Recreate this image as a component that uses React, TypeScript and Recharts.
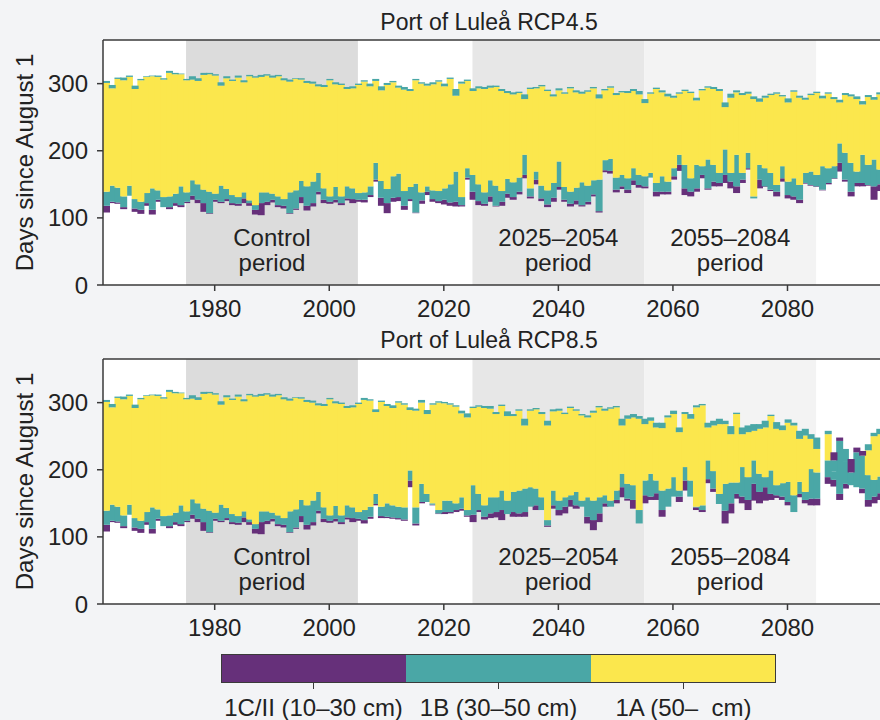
import React from 'react';
import { Bar, BarChart, ReferenceArea, ReferenceLine, XAxis, YAxis } from 'recharts';

const FONT = '"Liberation Sans", Arial, Helvetica, sans-serif';
const INK = '#222';
const AXIS = '#3a3a3a';
const PURPLE = '#66307a';
const TEAL = '#4aa7a6';
const YELLOW = '#fbe74d';

// winters 1961–2096, one bar per year
const years = Array.from({ length: 136 }, (_, i) => 1961 + i);
const xTicks = [1980, 2000, 2020, 2040, 2060, 2080];
const yTicks = [0, 100, 200, 300];

const periods = [
  { from: 1975, to: 2005, fill: '#dcdcdc', lines: ['Control', 'period'] },
  { from: 2025, to: 2055, fill: '#e7e7e7', lines: ['2025–2054', 'period'] },
  { from: 2055, to: 2085, fill: '#f3f3f3', lines: ['2055–2084', 'period'] },
];

const iceClasses = ['1C/II (10–30 cm)', '1B (30–50 cm)', '1A (50–  cm)'];
const iceColors = [PURPLE, TEAL, YELLOW];

// historical run 1961–2005 (shared by both scenarios), days since August 1
const histStart = [108, 122, 121, 113, 133, 109, 106, 118, 105, 124, 116, 113, 118, 116, 122, 127, 122, 109, 106, 124, 122, 125, 119, 118, 122, 118, 105, 104, 119, 123, 116, 114, 106, 112, 122, 111, 117, 135, 122, 121, 123, 119, 126, 122, 124];
const histTealLo = [118, 124, 123, 116, 133, 114, 112, 122, 112, 127, 116, 116, 122, 119, 124, 133, 127, 122, 107, 127, 124, 128, 122, 121, 129, 122, 112, 122, 124, 127, 119, 118, 107, 114, 131, 118, 122, 139, 127, 124, 127, 122, 129, 128, 127];
const histYelLo = [139, 148, 145, 132, 148, 128, 124, 137, 144, 141, 131, 132, 136, 147, 138, 156, 150, 142, 139, 136, 148, 143, 134, 131, 138, 126, 119, 138, 138, 136, 132, 128, 138, 141, 155, 147, 154, 167, 144, 132, 146, 132, 147, 144, 137];
const histYelHi = [301, 293, 307, 305, 310, 292, 305, 310, 311, 310, 306, 316, 314, 314, 305, 306, 304, 313, 314, 312, 297, 308, 304, 309, 302, 311, 309, 310, 312, 309, 311, 305, 303, 307, 306, 301, 300, 296, 295, 305, 299, 298, 292, 293, 298];
const histCap = [304, 298, 309, 309, 312, 297, 307, 311, 312, 312, 308, 319, 316, 315, 307, 311, 308, 316, 316, 314, 302, 311, 306, 312, 305, 313, 311, 313, 314, 312, 313, 308, 306, 308, 308, 304, 303, 299, 298, 307, 302, 300, 295, 296, 300];

// RCP4.5 2006–2096
const r45Start = [123, 131, 154, 118, 107, 124, 125, 112, 125, 107, 121, 134, 124, 122, 120, 118, 117, 117, 157, 127, 119, 118, 124, 117, 118, 130, 127, 135, 159, 129, 150, 125, 116, 124, 142, 124, 117, 120, 117, 120, 132, 108, 168, 166, 138, 143, 137, 149, 145, 144, 160, 132, 135, 135, 157, 170, 134, 132, 139, 159, 142, 147, 147, 152, 144, 137, 152, 172, 129, 144, 146, 140, 132, 154, 129, 127, 122, 151, 148, 146, 141, 150, 158, 169, 154, 132, 147, 147, 148, 127, 140];
const r45TealLo = [127, 134, 157, 130, 122, 130, 131, 118, 128, 108, 126, 139, 128, 125, 127, 123, 124, 119, 160, 139, 125, 121, 132, 118, 124, 136, 131, 139, 164, 132, 157, 129, 120, 130, 146, 127, 121, 126, 119, 124, 135, 110, 171, 170, 142, 147, 142, 156, 149, 147, 160, 139, 139, 139, 162, 179, 144, 139, 144, 164, 144, 154, 152, 164, 154, 147, 157, 174, 129, 157, 147, 142, 139, 159, 134, 132, 127, 152, 149, 147, 142, 152, 159, 182, 157, 139, 152, 152, 149, 147, 150];
const r45YelLo = [138, 147, 182, 155, 143, 162, 166, 140, 146, 151, 138, 147, 141, 140, 144, 150, 169, 131, 174, 164, 150, 138, 156, 148, 140, 158, 153, 160, 194, 144, 169, 148, 141, 152, 184, 146, 139, 145, 153, 148, 156, 157, 186, 188, 160, 164, 159, 174, 164, 162, 167, 152, 162, 154, 174, 194, 179, 159, 179, 177, 187, 179, 167, 202, 167, 194, 167, 197, 132, 179, 174, 167, 149, 177, 154, 159, 149, 167, 169, 164, 177, 174, 177, 211, 197, 182, 169, 194, 179, 187, 172];
const r45YelHi = [303, 296, 304, 290, 298, 302, 294, 291, 289, 305, 300, 297, 299, 303, 296, 307, 282, 300, 304, 289, 293, 292, 294, 295, 289, 286, 284, 286, 277, 292, 293, 296, 289, 281, 290, 285, 293, 287, 285, 288, 293, 278, 290, 294, 283, 287, 286, 289, 284, 271, 285, 292, 287, 281, 279, 285, 289, 286, 275, 290, 294, 292, 289, 265, 279, 287, 283, 285, 277, 273, 279, 283, 285, 281, 272, 288, 279, 276, 283, 286, 278, 285, 277, 272, 283, 281, 277, 269, 280, 276, 284];
const r45Cap = [305, 300, 307, 296, 301, 304, 297, 295, 292, 307, 302, 300, 302, 305, 300, 309, 292, 303, 306, 293, 296, 295, 297, 297, 292, 289, 287, 288, 284, 294, 295, 298, 291, 284, 293, 287, 295, 290, 288, 290, 295, 284, 292, 296, 286, 289, 289, 292, 289, 277, 287, 294, 290, 285, 282, 287, 291, 288, 279, 292, 296, 295, 292, 272, 285, 290, 286, 288, 281, 278, 282, 285, 287, 283, 278, 290, 282, 279, 285, 288, 282, 287, 280, 276, 286, 284, 281, 274, 283, 280, 287];

// RCP8.5 2006–2096 (2086 has no ice)
const r85Start = [120, 127, 147, 128, 128, 127, 126, 124, 174, 117, 150, 152, 147, 134, 134, 135, 137, 139, 130, 122, 137, 126, 128, 129, 125, 134, 130, 130, 130, 145, 140, 140, 115, 142, 132, 135, 145, 142, 145, 120, 110, 122, 145, 145, 150, 159, 154, 142, 120, 150, 155, 155, 130, 145, 160, 152, 169, 160, 140, 137, 180, 167, 149, 120, 135, 157, 150, 140, 154, 150, 154, 155, 158, 155, 147, 137, 159, 150, 147, 147, null, 179, 175, 155, 172, 177, 174, 165, 145, 150, 155];
const r85TealLo = [125, 130, 149, 131, 130, 129, 128, 126, 184, 120, 152, 152, 148, 135, 137, 137, 140, 142, 132, 133, 140, 130, 135, 137, 140, 134, 137, 135, 137, 145, 147, 140, 117, 147, 140, 145, 155, 147, 145, 130, 125, 135, 150, 145, 155, 174, 157, 155, 120, 162, 160, 165, 140, 145, 160, 160, 184, 160, 144, 140, 186, 172, 149, 139, 150, 164, 160, 155, 179, 167, 174, 164, 162, 160, 152, 137, 164, 155, 157, 157, null, 189, 185, 164, 179, 177, 174, 172, 155, 160, 165];
const r85YelLo = [140, 145, 164, 145, 150, 147, 145, 144, 199, 144, 179, 164, 150, 140, 154, 154, 150, 159, 140, 177, 164, 147, 159, 159, 169, 154, 167, 169, 172, 174, 172, 159, 125, 169, 154, 159, 162, 167, 154, 159, 154, 159, 162, 154, 169, 194, 179, 177, 140, 184, 194, 184, 169, 172, 189, 169, 204, 184, 145, 147, 214, 198, 164, 179, 181, 181, 204, 189, 214, 194, 189, 199, 177, 180, 182, 162, 182, 167, 201, 196, null, 214, 197, 243, 213, 196, 226, 221, 192, 185, 190];
const r85YelHi = [304, 303, 286, 301, 295, 292, 300, 297, 289, 288, 300, 283, 297, 300, 299, 297, 294, 284, 278, 292, 294, 292, 291, 283, 295, 280, 280, 288, 266, 288, 290, 283, 266, 287, 288, 283, 292, 288, 281, 278, 285, 293, 288, 291, 293, 266, 276, 278, 276, 268, 273, 263, 262, 278, 283, 256, 283, 276, 293, 296, 263, 266, 268, 268, 253, 283, 253, 256, 258, 261, 263, 280, 261, 259, 270, 266, 246, 251, 246, 231, null, 253, 197, 243, 213, 196, 226, 221, 229, 250, 253];
const r85Cap = [307, 305, 290, 303, 298, 296, 302, 299, 293, 291, 304, 289, 299, 302, 301, 299, 296, 288, 284, 294, 296, 295, 295, 286, 297, 287, 283, 290, 276, 290, 292, 286, 273, 290, 291, 285, 294, 290, 283, 281, 288, 295, 291, 293, 295, 276, 281, 283, 280, 276, 278, 270, 270, 281, 288, 263, 286, 283, 296, 298, 270, 273, 276, 273, 265, 285, 263, 266, 268, 268, 273, 282, 271, 266, 275, 270, 258, 261, 253, 248, null, 258, 214, 243, 231, 196, 226, 221, 238, 255, 261];
// RCP8.5 thin ice lying above the thicker ice, 2087–2096
const r85PurFrom = 2087;
const r85PurHi = [258, 226, 248, 231, 216, 233, 228, 238, 255, 261];

type Row = { year: number; base?: number; c1?: number; b1?: number; a?: number; b2?: number; c2?: number };

function buildRows(
  start: (number | null)[],
  tealLo: (number | null)[],
  yelLo: (number | null)[],
  yelHi: (number | null)[],
  cap: (number | null)[],
  purHi?: number[],
  purFrom?: number,
): Row[] {
  return years.map((year, i) => {
    const s = start[i];
    if (s == null) return { year };
    const tl = tealLo[i] as number;
    const yl = yelLo[i] as number;
    const yh = yelHi[i] as number;
    const ch = cap[i] as number;
    const k = purFrom != null ? year - purFrom : -1;
    const ph = purHi && k >= 0 && k < purHi.length ? purHi[k] : ch;
    return { year, base: s, c1: tl - s, b1: yl - tl, a: yh - yl, b2: ch - yh, c2: ph - ch };
  });
}

const rows45 = buildRows(
  [...histStart, ...r45Start],
  [...histTealLo, ...r45TealLo],
  [...histYelLo, ...r45YelLo],
  [...histYelHi, ...r45YelHi],
  [...histCap, ...r45Cap],
);
const rows85 = buildRows(
  [...histStart, ...r85Start],
  [...histTealLo, ...r85TealLo],
  [...histYelLo, ...r85YelLo],
  [...histYelHi, ...r85YelHi],
  [...histCap, ...r85Cap],
  r85PurHi,
  r85PurFrom,
);

const Seg = (props: any) => {
  const { x, y, width, height, fill } = props;
  if (x == null || !height || height <= 0) return null;
  // widen by 1px so neighbouring years touch
  return <rect x={x} y={y} width={width + 1} height={height} fill={fill} />;
};

const Empty = () => null;

const PeriodLabel = (props: any) => {
  const { viewBox, lines } = props;
  if (!viewBox) return null;
  const cx = viewBox.x + viewBox.width / 2;
  const bottom = viewBox.y + viewBox.height;
  return (
    <text textAnchor="middle" fontFamily={FONT} fontSize={24} fill={INK}>
      <tspan x={cx} y={bottom - 39}>{lines[0]}</tspan>
      <tspan x={cx} y={bottom - 14}>{lines[1]}</tspan>
    </text>
  );
};

const YTitle = (props: any) => {
  const { viewBox } = props;
  const cy = viewBox ? viewBox.y + viewBox.height / 2 : 162;
  return (
    <text x={33} y={cy} transform={`rotate(-90 33 ${cy})`} textAnchor="middle" fontFamily={FONT} fontSize={24} fill={INK}>
      Days since August 1
    </text>
  );
};

function Panel({ rows }: { rows: Row[] }) {
  const tick = { fill: INK, fontSize: 24, fontFamily: FONT };
  return (
    <BarChart width={900} height={330} data={rows} margin={{ top: 40, right: 18, bottom: 0, left: 0 }} barCategoryGap={0} barGap={0}>
      <ReferenceArea x1={1960.5} x2={2096.5} y1={0} y2={365} fill="#ffffff" fillOpacity={1} stroke="none" />
      {periods.map((p) => (
        <ReferenceArea
          key={p.from}
          x1={p.from}
          x2={p.to}
          y1={0}
          y2={365}
          fill={p.fill}
          fillOpacity={1}
          stroke="none"
          label={<PeriodLabel lines={p.lines} />}
        />
      ))}
      <XAxis
        type="number"
        dataKey="year"
        domain={[1960.5, 2096.5]}
        ticks={xTicks}
        interval={0}
        allowDataOverflow
        height={45}
        tick={tick}
        tickSize={6}
        tickMargin={9}
        stroke={AXIS}
        strokeWidth={1.5}
      />
      <YAxis
        type="number"
        domain={[0, 365]}
        ticks={yTicks}
        interval={0}
        allowDataOverflow
        width={103}
        tick={tick}
        tickSize={6}
        tickMargin={9}
        stroke={AXIS}
        strokeWidth={1.5}
        label={<YTitle />}
      />
      <ReferenceLine y={365} stroke={AXIS} strokeWidth={1.5} />
      <Bar dataKey="base" stackId="s" fill="transparent" isAnimationActive={false} shape={<Empty />} />
      <Bar dataKey="c1" stackId="s" fill={PURPLE} isAnimationActive={false} shape={<Seg />} />
      <Bar dataKey="b1" stackId="s" fill={TEAL} isAnimationActive={false} shape={<Seg />} />
      <Bar dataKey="a" stackId="s" fill={YELLOW} isAnimationActive={false} shape={<Seg />} />
      <Bar dataKey="b2" stackId="s" fill={TEAL} isAnimationActive={false} shape={<Seg />} />
      <Bar dataKey="c2" stackId="s" fill={PURPLE} isAnimationActive={false} shape={<Seg />} />
    </BarChart>
  );
}

const titleStyle: React.CSSProperties = {
  position: 'absolute',
  left: 0,
  width: 978,
  textAlign: 'center',
  fontFamily: FONT,
  fontSize: 23,
  lineHeight: '23px',
  color: INK,
  whiteSpace: 'nowrap',
};

const legendText: React.CSSProperties = {
  position: 'absolute',
  width: 300,
  top: 696,
  textAlign: 'center',
  fontFamily: FONT,
  fontSize: 24,
  lineHeight: '24px',
  color: INK,
  whiteSpace: 'pre',
};

function ColorBar() {
  return (
    <>
      <div
        style={{
          position: 'absolute',
          left: 221,
          top: 654,
          width: 555,
          height: 29,
          display: 'flex',
          border: `1.5px solid ${AXIS}`,
          boxSizing: 'border-box',
        }}
      >
        {iceColors.map((c) => (
          <div key={c} style={{ flex: 1, background: c }} />
        ))}
      </div>
      {iceClasses.map((label, i) => {
        const cx = 221 + (555 * (i + 0.5)) / 3;
        return (
          <React.Fragment key={label}>
            <div style={{ position: 'absolute', left: cx - 0.75, top: 683, width: 1.5, height: 6, background: AXIS }} />
            <div style={{ ...legendText, left: cx - 150 }}>{label}</div>
          </React.Fragment>
        );
      })}
    </>
  );
}

export default function App() {
  return (
    <div style={{ position: 'absolute', left: 0, top: 0, width: 880, height: 720, overflow: 'hidden', background: '#f3f4f6' }}>
      <div style={{ ...titleStyle, top: 11 }}>Port of Luleå RCP4.5</div>
      <div style={{ position: 'absolute', left: 0, top: 0 }}>
        <Panel rows={rows45} />
      </div>
      <div style={{ ...titleStyle, top: 329 }}>Port of Luleå RCP8.5</div>
      <div style={{ position: 'absolute', left: 0, top: 319 }}>
        <Panel rows={rows85} />
      </div>
      <ColorBar />
    </div>
  );
}
